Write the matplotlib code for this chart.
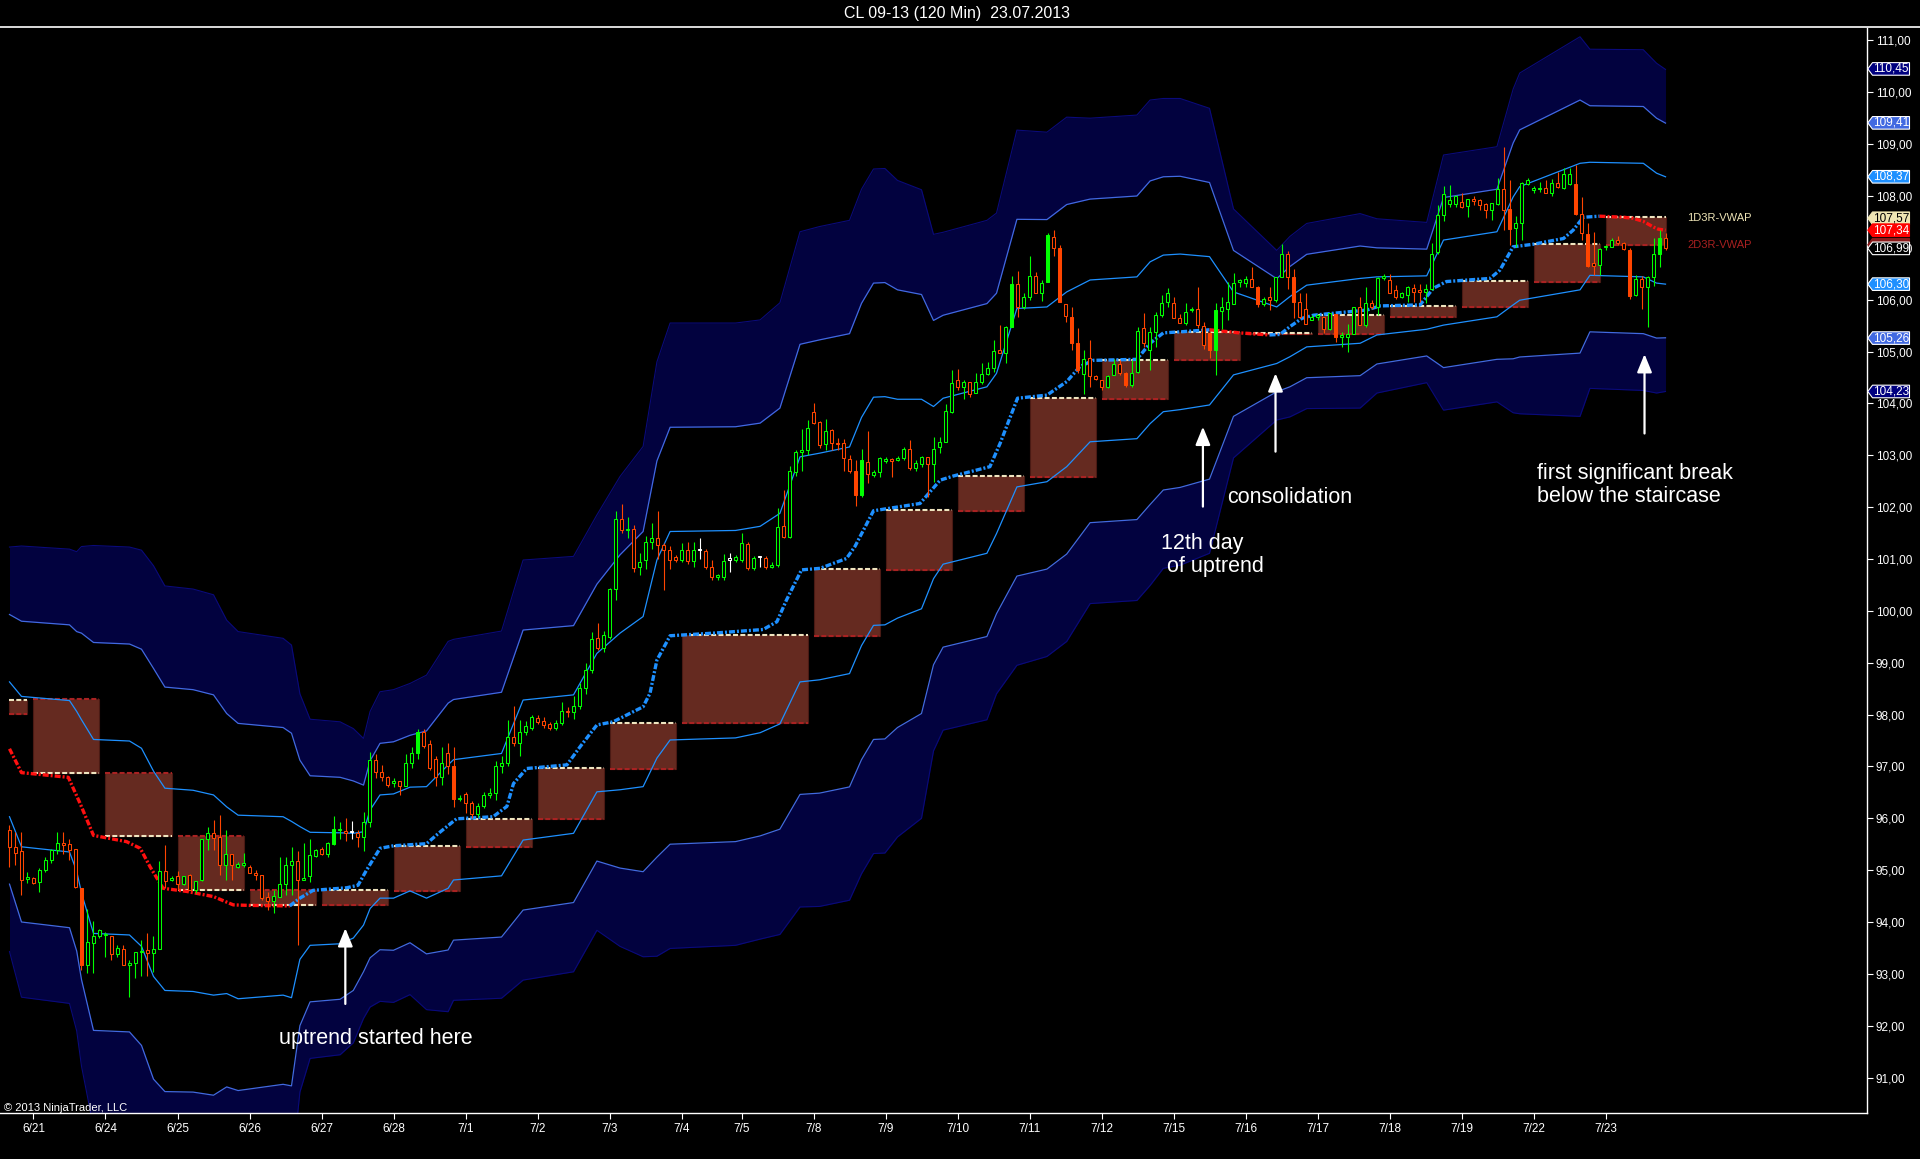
import numpy as np
import matplotlib.pyplot as plt
from matplotlib.patches import Rectangle, Polygon

plt.rcParams['font.family'] = ['Liberation Sans', 'DejaVu Sans']

# ---- CL 09-13, 120 min bars (bar 0 = first bar on the chart) ----
opens = [
    95.77, 95.45, 95.36, 94.82, 94.84, 94.77, 95.00, 95.19, 95.38, 95.52,
    95.50, 95.40, 94.65, 93.17, 93.60, 93.73, 93.74, 93.73, 93.38, 93.48,
    93.17, 93.20, 93.42, 93.46, 93.41, 93.47, 94.99, 94.81, 94.89, 94.73,
    94.91, 94.62, 94.81, 95.60, 95.71, 95.63, 95.10, 95.32, 95.07, 95.10,
    95.06, 94.95, 94.91, 94.49, 94.41, 94.49, 94.73, 95.10, 95.18, 94.81,
    94.88, 95.28, 95.40, 95.31, 95.50, 95.77, 95.75, 95.73, 95.72, 95.63,
    95.93, 97.12, 96.90, 96.79, 96.69, 96.72, 96.63, 97.06, 97.25, 97.66,
    97.43, 97.14, 96.80, 97.25, 97.00, 96.37, 96.47, 96.30, 96.08, 96.23,
    96.45, 96.48, 97.00, 97.06, 97.57, 97.45, 97.67, 97.75, 97.94, 97.88,
    97.82, 97.74, 97.83, 98.06, 98.04, 98.17, 98.51, 98.86, 99.47, 99.28,
    99.49, 100.43, 101.77, 101.55, 101.57, 100.84, 100.98, 101.33, 101.40, 101.27,
    101.17, 101.03, 100.99, 101.17, 100.97, 101.17, 101.15, 100.85, 100.66, 100.66,
    100.99, 100.99, 100.99, 101.29, 100.82, 101.03, 101.01, 100.85, 100.89, 101.64,
    101.42, 102.68, 103.07, 103.10, 103.83, 103.65, 103.22, 103.49, 103.24, 103.24,
    102.92, 102.70, 102.23, 102.87, 102.61, 102.68, 102.89, 102.92, 102.91, 102.94,
    103.13, 102.75, 102.84, 102.96, 102.84, 103.16, 103.26, 103.84, 104.45, 104.31,
    104.42, 104.21, 104.42, 104.57, 104.69, 105.03, 104.98, 105.48, 106.31, 105.86,
    106.06, 106.45, 106.12, 106.35, 107.21, 106.99, 105.91, 105.66, 105.17, 104.57,
    104.87, 104.53, 104.45, 104.32, 104.55, 104.76, 104.59, 104.35, 104.61, 105.45,
    105.03, 105.38, 105.70, 105.96, 105.93, 105.64, 105.55, 105.80, 105.83, 105.49,
    105.35, 105.03, 105.79, 105.83, 105.92, 106.35, 106.33, 106.39, 106.25, 105.92,
    106.06, 105.99, 106.44, 106.88, 106.44, 105.96, 105.83, 105.61, 105.67, 105.66,
    105.43, 105.72, 105.29, 105.29, 105.34, 105.86, 105.51, 105.94, 105.85, 106.41,
    106.38, 106.18, 106.06, 106.09, 106.22, 106.19, 106.15, 106.20, 106.92, 107.63,
    107.84, 107.84, 107.89, 107.80, 107.95, 107.92, 107.84, 107.73, 107.84, 108.13,
    107.74, 107.39, 107.48, 108.24, 108.11, 108.13, 108.16, 108.06, 108.25, 108.15,
    108.24, 108.23, 107.66, 107.26, 106.70, 106.67, 107.01, 107.02, 107.16, 107.09,
    106.96, 106.09, 106.39, 106.25, 106.43, 106.89, 107.18,
]
highs = [
    95.87, 95.74, 95.74, 94.97, 94.87, 95.04, 95.26, 95.40, 95.74, 95.73,
    95.61, 95.40, 94.65, 94.26, 94.01, 93.86, 93.81, 93.73, 93.56, 93.56,
    93.27, 93.43, 93.65, 93.78, 93.73, 95.18, 95.49, 94.88, 94.99, 94.89,
    94.93, 94.79, 95.61, 95.84, 95.97, 96.06, 95.77, 95.32, 95.15, 95.34,
    95.10, 95.00, 94.91, 94.58, 94.61, 95.26, 95.26, 95.45, 95.36, 95.52,
    95.60, 95.41, 95.44, 95.54, 96.04, 95.92, 96.00, 95.95, 95.77, 96.13,
    97.28, 97.24, 97.03, 96.82, 96.77, 96.72, 97.24, 97.38, 97.72, 97.72,
    97.50, 97.20, 97.38, 97.45, 97.38, 96.45, 96.50, 96.34, 96.30, 96.50,
    96.58, 97.10, 97.20, 97.90, 98.17, 97.90, 97.87, 98.00, 98.00, 97.95,
    97.85, 97.90, 98.25, 98.15, 98.35, 98.60, 99.00, 99.60, 99.76, 99.62,
    100.45, 101.93, 102.06, 101.80, 101.66, 101.12, 101.45, 101.70, 101.93, 101.30,
    101.25, 101.08, 101.30, 101.33, 101.33, 101.40, 101.20, 100.98, 100.72, 101.10,
    101.12, 101.08, 101.50, 101.32, 101.06, 101.05, 101.05, 100.95, 101.98, 102.33,
    102.80, 103.10, 103.50, 103.68, 104.01, 103.67, 103.69, 103.50, 103.34, 103.32,
    103.00, 102.90, 103.13, 103.47, 102.72, 102.97, 102.96, 102.94, 102.98, 103.16,
    103.30, 102.90, 102.98, 102.97, 103.36, 103.36, 103.99, 104.64, 104.67, 104.45,
    104.42, 104.58, 104.77, 104.80, 105.22, 105.51, 105.49, 106.45, 106.56, 106.12,
    106.84, 106.54, 106.38, 107.29, 107.34, 107.05, 105.91, 105.86, 105.45, 105.03,
    105.22, 104.55, 104.45, 104.55, 104.85, 104.83, 104.61, 104.83, 105.48, 105.75,
    105.48, 105.77, 106.09, 106.22, 106.06, 105.73, 105.93, 105.86, 106.25, 105.57,
    105.38, 105.93, 106.06, 106.35, 106.51, 106.39, 106.45, 106.64, 106.26, 106.05,
    106.25, 106.44, 107.08, 106.93, 106.60, 106.12, 106.12, 105.70, 105.72, 105.67,
    105.75, 105.73, 105.38, 105.54, 105.86, 106.06, 106.24, 105.99, 106.44, 106.49,
    106.49, 106.28, 106.14, 106.26, 106.30, 106.30, 106.30, 107.10, 107.82, 108.19,
    108.21, 108.02, 108.05, 107.95, 108.00, 107.95, 107.87, 107.87, 108.34, 108.95,
    108.31, 107.61, 108.27, 108.34, 108.19, 108.27, 108.31, 108.32, 108.47, 108.53,
    108.53, 108.60, 107.98, 107.47, 107.31, 106.99, 107.05, 107.18, 107.22, 107.12,
    106.99, 106.48, 106.46, 106.45, 107.18, 107.34, 107.29,
]
lows = [
    95.07, 95.10, 94.52, 94.75, 94.74, 94.58, 94.97, 95.13, 95.31, 95.31,
    95.20, 94.65, 93.08, 93.01, 93.01, 93.70, 93.33, 93.27, 93.33, 93.17,
    92.56, 92.92, 92.95, 92.95, 93.04, 93.47, 94.65, 94.80, 94.62, 94.72,
    94.61, 94.55, 94.80, 95.39, 95.39, 94.91, 94.81, 94.81, 95.05, 95.07,
    94.95, 94.81, 94.43, 94.23, 94.17, 94.49, 94.52, 94.52, 93.56, 94.81,
    94.78, 95.26, 95.29, 95.25, 95.49, 95.60, 95.57, 95.60, 95.45, 95.36,
    95.84, 96.77, 96.71, 96.61, 96.61, 96.45, 96.62, 96.96, 97.14, 97.35,
    96.93, 96.62, 96.65, 96.85, 96.22, 96.33, 96.10, 96.00, 96.02, 96.20,
    96.40, 96.35, 96.88, 97.00, 97.40, 97.20, 97.60, 97.70, 97.82, 97.75,
    97.70, 97.70, 97.80, 97.95, 97.92, 98.10, 98.40, 98.80, 99.25, 99.20,
    99.45, 100.20, 101.50, 101.40, 100.74, 100.70, 100.80, 101.20, 101.00, 100.40,
    100.80, 100.95, 100.95, 100.90, 100.85, 101.00, 100.80, 100.60, 100.60, 100.60,
    100.75, 100.95, 100.95, 100.78, 100.78, 100.85, 100.80, 100.82, 100.85, 101.40,
    101.40, 102.60, 102.70, 103.00, 103.61, 103.14, 103.11, 103.10, 103.11, 102.70,
    102.66, 102.02, 102.20, 102.46, 102.58, 102.59, 102.86, 102.59, 102.88, 102.90,
    102.72, 102.70, 102.78, 102.20, 102.49, 103.04, 103.26, 103.81, 104.26, 104.08,
    104.13, 104.21, 104.38, 104.55, 104.61, 104.98, 104.78, 105.48, 105.67, 105.82,
    105.99, 106.12, 105.98, 106.35, 106.84, 105.96, 105.57, 105.03, 104.58, 104.19,
    104.32, 104.45, 104.26, 104.30, 104.55, 104.55, 104.32, 104.32, 104.58, 105.09,
    104.64, 105.09, 105.67, 105.86, 105.64, 105.55, 105.51, 105.77, 105.45, 105.05,
    104.87, 104.55, 105.43, 105.61, 105.92, 106.25, 106.25, 106.25, 105.86, 105.88,
    105.80, 105.96, 106.44, 106.20, 105.64, 105.64, 105.54, 105.60, 105.60, 105.35,
    105.42, 105.19, 105.08, 105.00, 105.33, 105.51, 105.48, 105.83, 105.70, 106.38,
    106.12, 106.02, 106.04, 105.96, 105.96, 105.96, 105.94, 106.18, 106.89, 107.52,
    107.79, 107.79, 107.76, 107.60, 107.82, 107.73, 107.57, 107.54, 107.82, 107.34,
    107.05, 107.02, 107.15, 108.21, 108.05, 108.08, 108.05, 107.99, 108.15, 108.13,
    108.21, 107.63, 107.15, 106.63, 106.48, 106.48, 106.96, 107.02, 107.06, 106.96,
    106.01, 106.07, 105.82, 105.47, 106.27, 106.63, 106.95,
]
closes = [
    95.45, 95.34, 94.81, 94.87, 94.76, 95.00, 95.20, 95.39, 95.52, 95.49,
    95.39, 94.68, 93.17, 93.62, 93.73, 93.84, 93.76, 93.38, 93.49, 93.17,
    93.20, 93.43, 93.45, 93.41, 93.47, 94.99, 94.80, 94.84, 94.73, 94.89,
    94.61, 94.79, 95.60, 95.72, 95.62, 95.10, 95.32, 95.10, 95.11, 95.13,
    94.95, 94.90, 94.46, 94.41, 94.51, 94.73, 95.10, 95.18, 94.81, 94.85,
    95.29, 95.39, 95.31, 95.52, 95.79, 95.80, 95.72, 95.73, 95.63, 95.93,
    97.12, 96.90, 96.79, 96.64, 96.71, 96.63, 97.06, 97.25, 97.67, 97.39,
    96.96, 96.80, 97.06, 97.00, 96.37, 96.40, 96.29, 96.08, 96.24, 96.45,
    96.48, 97.00, 97.06, 97.57, 97.45, 97.67, 97.78, 97.95, 97.86, 97.80,
    97.74, 97.83, 98.06, 98.04, 98.17, 98.51, 98.86, 99.46, 99.28, 99.53,
    100.42, 101.77, 101.55, 101.58, 100.82, 100.95, 101.33, 101.40, 101.27, 101.17,
    100.99, 100.99, 101.17, 100.97, 101.17, 101.17, 100.85, 100.66, 100.68, 100.97,
    100.99, 101.03, 101.30, 100.82, 101.01, 101.03, 100.85, 100.89, 101.62, 101.43,
    102.70, 103.07, 103.10, 103.52, 103.63, 103.20, 103.47, 103.24, 103.21, 102.94,
    102.70, 102.23, 102.91, 102.64, 102.68, 102.94, 102.92, 102.89, 102.94, 103.13,
    102.75, 102.86, 102.96, 102.84, 103.13, 103.26, 103.85, 104.40, 104.32, 104.42,
    104.19, 104.42, 104.57, 104.69, 105.02, 104.98, 105.48, 106.31, 105.86, 106.06,
    106.45, 106.12, 106.33, 107.25, 106.99, 105.96, 105.68, 105.16, 104.64, 104.85,
    104.53, 104.48, 104.32, 104.53, 104.76, 104.59, 104.35, 104.59, 105.40, 105.17,
    105.38, 105.70, 105.93, 106.13, 105.64, 105.55, 105.77, 105.83, 105.51, 105.12,
    105.03, 105.80, 105.86, 105.96, 106.33, 106.37, 106.39, 106.25, 105.92, 106.02,
    105.99, 106.44, 106.88, 106.44, 105.96, 105.66, 105.54, 105.66, 105.69, 105.43,
    105.74, 105.29, 105.31, 105.34, 105.85, 105.51, 105.94, 105.85, 106.41, 106.46,
    106.13, 106.06, 106.12, 106.25, 106.15, 106.14, 106.20, 106.89, 107.63, 108.04,
    107.93, 108.00, 107.79, 107.95, 107.91, 107.82, 107.73, 107.86, 108.13, 107.73,
    107.37, 107.47, 108.25, 108.31, 108.15, 108.16, 108.06, 108.25, 108.18, 108.43,
    108.43, 107.66, 107.28, 106.65, 106.65, 106.97, 107.04, 107.16, 107.09, 106.97,
    106.07, 106.39, 106.25, 106.43, 106.89, 107.18, 106.99,
]
# bars whose body is painted solid instead of hollow
solid_bodies = [12, 54, 68, 74, 141, 142, 167, 173, 175, 177, 178, 186,
                200, 201, 208, 214, 221, 250, 261, 263, 270, 275]

day_ticks = [4, 16, 28, 40, 52, 64, 76, 88, 100, 112, 122, 134, 146, 158,
             170, 182, 194, 206, 218, 230, 242, 254, 266]
day_labels = ['6/21', '6/24', '6/25', '6/26', '6/27', '6/28', '7/1', '7/2',
              '7/3', '7/4', '7/5', '7/8', '7/9', '7/10', '7/11', '7/12',
              '7/15', '7/16', '7/17', '7/18', '7/19', '7/22', '7/23']

# deviation bands: centre and one standard deviation at the bars where they bend
band_x = [0, 2, 10, 11.2, 12, 14, 20, 22, 24, 25.9,
          30.6, 34, 36.2, 38.1, 45.6, 47, 48.4, 50.1, 55.1, 57.3,
          59, 60.1, 61.75, 64, 66.75, 69.5, 73.1, 74, 82, 85.6,
          94, 97.9, 101.75, 105.6, 107.9, 110.1, 121, 125.1, 128.4, 131.75,
          135, 140, 142, 144, 145.9, 148, 152, 154, 155.6, 162.9,
          164.5, 167.9, 172.9, 176.2, 180.1, 187.9, 190.1, 192.3, 195.1, 200,
          204, 211.2, 213.4, 216.2, 225.1, 227.9, 236.2, 239, 247.9, 250.6,
          251.7, 261.75, 263.4, 272.3, 274.5, 276]
band_mid = [97.33, 96.90, 96.81, 96.52, 96.23, 95.65, 95.62, 95.44, 94.93, 94.63,
            94.60, 94.52, 94.42, 94.29, 94.31, 94.24, 94.56, 94.64, 94.65, 94.70,
            94.84, 95.21, 95.455, 95.465, 95.60, 95.535, 95.84, 95.97, 96.07, 96.93,
            97.045, 97.845, 98.06, 98.25, 99.07, 99.52, 99.55, 99.64, 99.85, 100.80,
            100.855, 100.975, 101.53, 101.92, 101.93, 101.97, 102.06, 102.28, 102.50, 102.715,
            103.035, 104.11, 104.175, 104.465, 104.82, 104.88, 105.17, 105.35, 105.38, 105.40,
            105.35, 105.315, 105.48, 105.685, 105.785, 105.88, 105.945, 106.33, 106.49, 106.94,
            107.085, 107.41, 107.56, 107.535, 107.38, 107.335]
band_sd = [1.30, 1.45, 1.46, 1.54, 1.67, 1.87, 1.87, 1.91, 1.98, 1.95,
           1.94, 1.93, 1.80, 1.77, 1.72, 1.70, 1.28, 1.09, 1.07, 1.01,
           0.90, 0.95, 0.995, 1.005, 1.00, 1.075, 1.19, 1.16, 1.18, 1.35,
           1.335, 1.335, 1.51, 1.64, 1.91, 2.01, 2.00, 1.99, 2.03, 2.17,
           2.185, 2.185, 2.20, 2.20, 2.20, 2.11, 2.02, 1.66, 1.60, 1.605,
           1.545, 1.72, 1.685, 1.685, 1.56, 1.56, 1.56, 1.51, 1.50, 1.43,
           0.80, 0.545, 0.58, 0.595, 0.625, 0.56, 0.515, 0.82, 0.82, 1.04,
           1.095, 1.22, 1.09, 1.095, 1.06, 1.035]

# intraday VWAP (dash-dot staircase line)
vwap_x = [0, 2, 9.8, 11.75, 14, 19.5, 21.8, 23.4, 25.6, 29.5,
          34, 37.3, 40, 46.7, 48.4, 50.6, 56.2, 58.1, 59.5, 61.75,
          64, 69.5, 71.5, 74.5, 80.6, 82.9, 84, 86.2, 92.9, 95.1,
          97.9, 100.6, 105.6, 106.75, 107.9, 110.1, 117.3, 125.6, 127.9, 129.5,
          132, 135.1, 139.5, 140.9, 144, 151.75, 155.1, 157.3, 163.4, 165.1,
          168, 172.9, 176.2, 178.4, 180.6, 187.9, 190.1, 192.3, 195.1, 200,
          205, 210, 211.75, 213.4, 215.4, 217.3, 219, 226.2, 228.4, 235.1,
          237.3, 239.5, 246.75, 248.4, 250.6, 254, 259, 260.6, 262.3, 265,
          269, 270.6, 272.3, 274, 274.8, 276]
vwap_y = [97.34, 96.88, 96.79, 96.29, 95.67, 95.55, 95.42, 95.07, 94.65, 94.59,
          94.49, 94.33, 94.32, 94.31, 94.46, 94.61, 94.66, 94.71, 95.0, 95.42,
          95.47, 95.51, 95.71, 95.99, 96.03, 96.23, 96.67, 96.96, 97.03, 97.38,
          97.80, 97.86, 98.15, 98.41, 99.05, 99.52, 99.57, 99.64, 99.79, 100.21,
          100.79, 100.82, 101.01, 101.24, 101.93, 102.07, 102.52, 102.60, 102.78, 103.23,
          104.10, 104.16, 104.42, 104.71, 104.83, 104.85, 105.16, 105.36, 105.38, 105.42,
          105.36, 105.32, 105.33, 105.48, 105.64, 105.70, 105.72, 105.80, 105.88, 105.90,
          106.22, 106.35, 106.41, 106.57, 107.02, 107.07, 107.18, 107.34, 107.59, 107.61,
          107.59, 107.57, 107.51, 107.40, 107.36, 107.34]

# daily boxes: first/last bar, 1D3R level (beige edge) and 2D3R level (red edge)
box_start = [0, 4, 16, 28, 40, 52, 64, 76, 88, 100, 112, 134, 146, 158, 170,
             182, 194, 206, 218, 230, 242, 254, 266]
box_end = [3, 15, 27, 39, 51, 63, 75, 87, 99, 111, 133, 145, 157, 169, 181,
           193, 205, 217, 229, 241, 253, 265, 276]
box_1d = [98.29, 96.87, 95.66, 94.62, 94.32, 94.61, 95.47, 95.99, 96.96, 97.83,
          99.53, 100.81, 101.94, 102.60, 104.10, 104.83, 105.37, 105.36, 105.71,
          105.88, 106.36, 107.07, 107.59]
box_2d = [98.02, 98.30, 96.88, 95.66, 94.62, 94.32, 94.59, 95.45, 95.98, 96.95,
          97.83, 99.52, 100.79, 101.92, 102.59, 104.08, 104.84, 105.33, 105.34,
          105.66, 105.86, 106.34, 107.06]

# price markers on the right axis (107,06 sits behind the last-price marker)
tag_values = [110.45, 109.41, 108.37, 107.57, 107.34, 107.06, 106.99, 106.30, 105.26, 104.23]
tag_faces = ['#00007f', '#4169e1', '#1e90ff', '#f0e6b4', '#ff0000', '#8b1a1a',
             '#000000', '#1e90ff', '#4169e1', '#00007f']
tag_texts = ['white', 'white', 'white', 'black', 'white', None,
             'white', 'white', 'white', 'white']
tag_edges = ['white', 'white', 'white', '#f0e6b4', '#ff0000', '#8b1a1a',
             'white', 'white', 'white', 'white']

# ---- layout (window pixels of the NinjaTrader screenshot) ----
W, H = 1920, 1159
PLOT_R, PLOT_T, PLOT_B = 1867, 28, 1113
y_lo, y_hi = 90.317, 111.239
x_lo, x_hi = -1.583, 309.58

NAVY = '#02023f'
BOX = '#652a20'
BEIGE = '#efe4bf'
BOXRED = '#a82222'
UP, DOWN = '#00ff00', '#ff4500'

fig = plt.figure(figsize=(W / 100, H / 100), dpi=100, facecolor='black')
ax = fig.add_axes([0, (H - PLOT_B) / H, PLOT_R / W, (PLOT_B - PLOT_T) / H])
ax.set_facecolor('black')
ax.set_xlim(x_lo, x_hi)
ax.set_ylim(y_lo, y_hi)

# bands
bx = np.array(band_x)
mid = np.array(band_mid)
sd = np.array(band_sd)
ax.fill_between(bx, mid + 2 * sd, mid + 3 * sd, color=NAVY, lw=0, zorder=1)
ax.fill_between(bx, mid - 3 * sd, mid - 2 * sd, color=NAVY, lw=0, zorder=1)
for k in (3, -3):
    ax.plot(bx, mid + k * sd, color='#0a0a7a', lw=0.8, zorder=1.1)
for k in (2, -2):
    ax.plot(bx, mid + k * sd, color='#4169e1', lw=0.9, zorder=2)
for k in (1, -1):
    ax.plot(bx, mid + k * sd, color='#1e90ff', lw=0.9, zorder=2)

# daily boxes
for s, e, b, r in zip(box_start, box_end, box_1d, box_2d):
    lo, hi = min(b, r), max(b, r)
    ax.add_patch(Rectangle((s, lo), e - s, hi - lo, fc=BOX, ec='#4a1a14', lw=0.8, zorder=1.5))
    ax.plot([s, e], [r, r], color=BOXRED, lw=1.5, dashes=(2.4, 1.1), zorder=1.6)
    ax.plot([s, e], [b, b], color=BEIGE, lw=1.5, dashes=(2.4, 1.1), zorder=1.7)

# VWAP line, red while falling, blue otherwise
vx = np.array(vwap_x)
vy = np.array(vwap_y)
seg_red = np.diff(vy) < -0.001
start = 0
for k in range(1, len(seg_red) + 1):
    if k == len(seg_red) or seg_red[k] != seg_red[start]:
        col = '#ff1010' if seg_red[start] else '#1e90ff'
        ax.plot(vx[start:k + 1], vy[start:k + 1], color=col, lw=2.4,
                dashes=(1.8, 0.6, 0.6, 0.6), solid_capstyle='butt', zorder=3)
        start = k

# candles
o = np.array(opens)
h = np.array(highs)
l = np.array(lows)
c = np.array(closes)
idx = np.arange(len(c))
cols = np.where(c > o, UP, np.where(c < o, DOWN, 'white'))
ax.vlines(idx, l, h, colors=cols, lw=0.8, zorder=4)
for i in idx:
    lo = min(o[i], c[i])
    ht = max(abs(c[i] - o[i]), 0.03)
    face = cols[i] if i in solid_bodies else 'black'
    ax.add_patch(Rectangle((i - 0.23, lo), 0.46, ht, fc=face, ec=cols[i], lw=0.75, zorder=5))

# annotations
arrow_kw = dict(arrowstyle='-|>,head_width=0.45,head_length=1.1', color='white',
                lw=1.6, shrinkA=0, shrinkB=0)
for xb, top, bot in [(55.97, 93.88, 92.42), (198.9, 103.55, 102.01),
                     (211.0, 104.58, 103.07), (272.5, 104.95, 103.42)]:
    ax.annotate('', xy=(xb, top), xytext=(xb, bot), arrowprops=arrow_kw, zorder=6)

note_kw = dict(color='white', fontsize=15.5, ha='left', va='center', zorder=6)
ax.text(44.9, 91.76, 'uptrend started here', **note_kw)
ax.text(191.9, 101.08, '12th day\n of uptrend', linespacing=1.1, **note_kw)
ax.text(203.0, 102.18, 'consolidation', **note_kw)
ax.text(254.5, 102.43, 'first significant break\nbelow the staircase', linespacing=1.1, **note_kw)

ax.text(279.6, 107.58, '1D3R-VWAP', color='#ede3b5', fontsize=8, va='center')
ax.text(279.6, 107.05, '2D3R-VWAP', color='#a82020', fontsize=8, va='center')

# axes styling
for side in ('top', 'left'):
    ax.spines[side].set_visible(False)
for side in ('bottom', 'right'):
    ax.spines[side].set_color('white')
    ax.spines[side].set_linewidth(1.0)
ax.set_xticks(day_ticks)
ax.set_xticklabels(day_labels)
ax.yaxis.tick_right()
yt = np.arange(91, 112)
ax.set_yticks(yt)
ax.set_yticklabels([f'{v:.2f}'.replace('.', ',') for v in yt])
ax.tick_params(axis='x', colors='white', length=4.3, width=0.8, labelsize=8.5, pad=3)
ax.tick_params(axis='y', colors='white', length=4.3, width=0.8, labelsize=8.5, pad=2)

# price tags
axr = fig.add_axes([PLOT_R / W, (H - PLOT_B) / H, (W - PLOT_R) / W, (PLOT_B - PLOT_T) / H])
axr.set_xlim(0, W - PLOT_R)
axr.set_ylim(y_lo, y_hi)
axr.axis('off')
half = 6.3 * (y_hi - y_lo) / (PLOT_B - PLOT_T)
for v, fc, tc, ec in zip(tag_values, tag_faces, tag_texts, tag_edges):
    axr.add_patch(Polygon([(0.8, v), (5.5, v + half), (42.5, v + half), (42.5, v - half), (5.5, v - half)],
                          closed=True, fc=fc, ec=ec, lw=0.8))
    if tc is not None:
        axr.text(24, v, f'{v:.2f}'.replace('.', ','), color=tc, fontsize=8.5, ha='center', va='center')

# window chrome
fig.text(956.7 / W, 1 - 13.3 / H, 'CL 09-13 (120 Min)  23.07.2013', color='white',
         fontsize=11.5, ha='center', va='center')
fig.add_artist(plt.Line2D([0, 1], [1 - 27.3 / H] * 2, color='white', lw=1.2,
                          transform=fig.transFigure))
fig.text(4 / W, 1 - 1108 / H, '\u00a9 2013 NinjaTrader, LLC', color='white',
         fontsize=8, ha='left', va='center')

fig.savefig('out.png', dpi=100, facecolor='black')
